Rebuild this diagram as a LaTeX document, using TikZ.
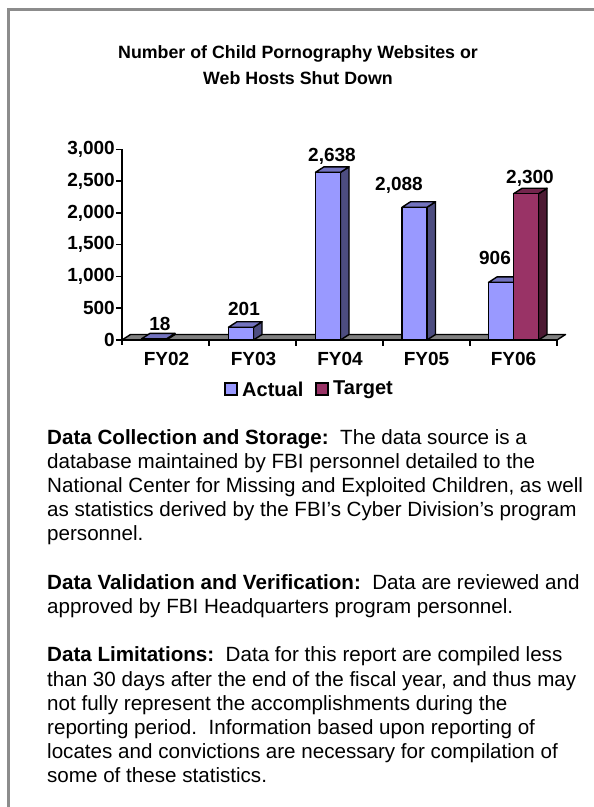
\documentclass[tikz,border=0pt]{standalone}
\usepackage{fontspec}
\setmainfont{Liberation Sans}
\begin{document}
\begin{tikzpicture}[x=1pt,y=-1pt,
  frameline/.style={draw=black!45, line width=2.5pt},
  axisline/.style={draw=black, line width=1.5pt},
  chartlbl/.style={font=\fontsize{19}{21}\selectfont\bfseries, inner sep=0pt},
  legendlbl/.style={font=\fontsize{20}{22}\selectfont\bfseries, inner sep=0pt, anchor=west},
  titlelbl/.style={font=\fontsize{17.8}{25}\selectfont\bfseries, inner sep=0pt, anchor=base},
  bodyline/.style={font=\fontsize{20.6}{24.2}\selectfont, inner sep=0pt, anchor=base west},
  barline/.style={draw=black, line width=1.4pt, line join=round},
]
\useasboundingbox (0,0) rectangle (594,807);
\fill[white] (0,0) rectangle (594,807);

% outer frame (open to the right and bottom)
\draw[frameline] (8.5,808) -- (8.5,9.5) -- (595,9.5);

% title
\node[titlelbl] (title1) at (298,58) {Number of Child Pornography Websites or};
\node[titlelbl] (title2) at (298,84) {Web Hosts Shut Down};

% chart geometry
\def\ybase{340}
\def\yscale{0.063567}
\def\dx{8.5}
\def\dy{-5.5}
\colorlet{actfront}{rgb,255:red,153;green,153;blue,255}
\colorlet{actside}{rgb,255:red,77;green,77;blue,128}
\colorlet{acttop}{rgb,255:red,115;green,115;blue,191}
\colorlet{tgtfront}{rgb,255:red,153;green,51;blue,102}
\colorlet{tgtside}{rgb,255:red,77;green,26;blue,51}
\colorlet{tgttop}{rgb,255:red,115;green,38;blue,77}

% floor
\filldraw[fill=black!50, barline] (122,340) -- (557,340) -- (565.5,334.5) -- (130.5,334.5) -- cycle;

% value axis
\draw[axisline] (122,149.3) -- (122,345);
\foreach \v/\t in {0/0,500/500,1000/{1,000},1500/{1,500},2000/{2,000},2500/{2,500},3000/{3,000}}{
  \draw[axisline] (116,{\ybase-\v*\yscale}) -- (122,{\ybase-\v*\yscale});
  \node[chartlbl, anchor=east] (ylab\v) at (115,{\ybase-\v*\yscale}) {\t};
}
% category axis
\draw[axisline] (122,340) -- (557,340);
\foreach \i in {1,...,5}{
  \draw[axisline] ({122+87*\i},340) -- ({122+87*\i},345.5);
}

% one 3D bar: left edge, value, front, side, top colours
\newcommand\drawbar[5]{%
  \pgfmathsetmacro\xl{#1}%
  \pgfmathsetmacro\xr{#1+25}%
  \pgfmathsetmacro\yt{\ybase-#2*\yscale}%
  \filldraw[fill=#4, barline] (\xr,\ybase) -- (\xr+\dx,\ybase+\dy) -- (\xr+\dx,\yt+\dy) -- (\xr,\yt) -- cycle;
  \filldraw[fill=#5, barline] (\xl,\yt) -- (\xl+\dx,\yt+\dy) -- (\xr+\dx,\yt+\dy) -- (\xr,\yt) -- cycle;
  \filldraw[fill=#3, barline] (\xl,\ybase) rectangle (\xr,\yt);
}
\drawbar{141.5}{18}{actfront}{actside}{acttop}
\drawbar{228.5}{201}{actfront}{actside}{acttop}
\drawbar{315.5}{2638}{actfront}{actside}{acttop}
\drawbar{402}{2088}{actfront}{actside}{acttop}
\drawbar{488.5}{906}{actfront}{actside}{acttop}
\drawbar{513.5}{2300}{tgtfront}{tgtside}{tgttop}

% data labels
\node[chartlbl] (v02) at (160,323.5) {18};
\node[chartlbl] (v03) at (244,308.5) {201};
\node[chartlbl] (v04) at (332,156) {2,638};
\node[chartlbl] (v05) at (399,185) {2,088};
\node[chartlbl] (v06a) at (495,258) {906};
\node[chartlbl] (v06t) at (530,178) {2,300};

% category labels
\foreach \n/\c in {FY02/166.5,FY03/253.5,FY04/340,FY05/426.5,FY06/513.5}{
  \node[chartlbl] (cat\n) at (\c,359) {\n};
}

% legend
\filldraw[fill=actfront, draw=black, line width=1.2pt] (225,383) rectangle (237,395);
\node[legendlbl] (legact) at (242,389.5) {Actual};
\filldraw[fill=tgtfront, draw=black, line width=1.2pt] (316,383) rectangle (328,395);
\node[legendlbl] (legtgt) at (333,389.5) {Target};

% notes below the chart
\def\lx{47}
\def\ls{24.2}
\def\pa{444}
\node[bodyline] (p1l1) at (\lx,\pa) {\textbf{Data Collection and Storage:}\ \ The data source is a};
\node[bodyline] (p1l2) at (\lx,\pa+\ls) {database maintained by FBI personnel detailed to the};
\node[bodyline] (p1l3) at (\lx,\pa+2*\ls) {National Center for Missing and Exploited Children, as well};
\node[bodyline] (p1l4) at (\lx,\pa+3*\ls) {as statistics derived by the FBI’s Cyber Division’s program};
\node[bodyline] (p1l5) at (\lx,\pa+4*\ls) {personnel.};
\node[bodyline] (p2l1) at (\lx,\pa+6*\ls) {\textbf{Data Validation and Verification:}\ \ Data are reviewed and};
\node[bodyline] (p2l2) at (\lx,\pa+7*\ls) {approved by FBI Headquarters program personnel.};
\node[bodyline] (p3l1) at (\lx,\pa+9*\ls) {\textbf{Data Limitations:}\ \ Data for this report are compiled less};
\node[bodyline] (p3l2) at (\lx,\pa+10*\ls) {than 30 days after the end of the fiscal year, and thus may};
\node[bodyline] (p3l3) at (\lx,\pa+11*\ls) {not fully represent the accomplishments during the};
\node[bodyline] (p3l4) at (\lx,\pa+12*\ls) {reporting period.\ \ Information based upon reporting of};
\node[bodyline] (p3l5) at (\lx,\pa+13*\ls) {locates and convictions are necessary for compilation of};
\node[bodyline] (p3l6) at (\lx,\pa+14*\ls) {some of these statistics.};
\end{tikzpicture}
\end{document}
